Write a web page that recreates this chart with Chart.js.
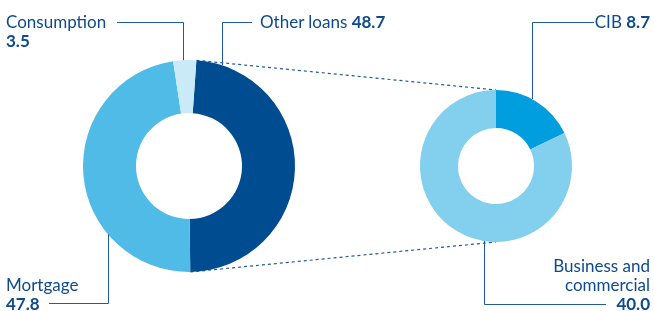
<!DOCTYPE html>
<html lang="en">
<head>
<meta charset="UTF-8">
<title>Loans breakdown</title>
<script src="https://cdn.jsdelivr.net/npm/chart.js@4.4.0/dist/chart.umd.min.js"></script>
<style>
    body { margin: 0; background: #fff; }
    .wrap { position: relative; width: 654px; height: 311px; font-family: Lato, sans-serif; color: #0d4a8e; }
    canvas { position: absolute; left: 0; top: 0; }
    .lbl { position: absolute; font-size: 17px; line-height: 19px; white-space: nowrap; }
    .lbl b { font-weight: 700; }
</style>
</head>
<body>
<div class="wrap" id="wrap">
    <canvas id="loansChart" width="654" height="311"></canvas>
    <canvas id="detailChart" width="654" height="311"></canvas>
</div>
<script>
    // left doughnut: loan portfolio
    const loanLabels = ['Other loans', 'Mortgage', 'Consumption'];
    const loanValues = [48.7, 47.8, 3.5];
    const loanColours = ['#004c91', '#4fbbe6', '#c9eaf6'];

    // right doughnut: breakdown of "Other loans"
    const detailLabels = ['CIB', 'Business and commercial'];
    const detailValues = [8.7, 40.0];
    const detailColours = ['#009ddf', '#82cfee'];

    const lineColour = '#1f5c9f';

    // label boxes (text comes from the arrays above)
    const labelBoxes = [
        { name: loanLabels[2], value: loanValues[2], css: 'left:6px;top:12px' },
        { name: loanLabels[0], value: loanValues[0], inline: true, css: 'left:260px;top:12px' },
        { name: loanLabels[1], value: loanValues[1], css: 'left:6px;top:275px' },
        { name: detailLabels[0], value: detailValues[0], inline: true, css: 'right:4px;top:12px' },
        { name: detailLabels[1], value: detailValues[1], css: 'right:4px;top:256px;width:110px;white-space:normal;text-align:right' }
    ];

    labelBoxes.forEach(l => {
        const div = document.createElement('div');
        div.className = 'lbl';
        div.style.cssText = l.css;
        div.innerHTML = l.name + (l.inline ? ' ' : '<br>') + '<b>' + l.value.toFixed(1) + '</b>';
        document.getElementById('wrap').appendChild(div);
    });

    // draws elbow leader lines from the label to the outer edge of the ring
    const leaderPlugin = {
        id: 'leaders',
        afterDatasetsDraw(chart, args, opts) {
            const arc = chart.getDatasetMeta(0).data[0];
            const cx = arc.x, cy = arc.y, r = arc.outerRadius;
            const ctx = chart.ctx;
            ctx.save();
            ctx.strokeStyle = lineColour;
            ctx.lineWidth = 1;
            opts.lines.forEach(l => {
                const dx = l.x - cx;
                const dy = Math.sqrt(r * r - dx * dx) * (l.y < cy ? -1 : 1);
                ctx.beginPath();
                ctx.moveTo(l.to, l.y + 0.5);
                ctx.lineTo(l.x + 0.5, l.y + 0.5);
                ctx.lineTo(l.x + 0.5, cy + dy);
                ctx.stroke();
            });
            ctx.restore();
        }
    };

    // dashed lines joining the "Other loans" slice to the detail ring
    const connectorPlugin = {
        id: 'connector',
        beforeDatasetsDraw(chart) {
            if (!window.detailChart) return;
            const arc = chart.getDatasetMeta(0).data[0];
            const target = detailChart.getDatasetMeta(0).data[0];
            const ctx = chart.ctx;
            const ends = [
                [arc.startAngle, target.y - target.outerRadius],
                [arc.endAngle, target.y + target.outerRadius]
            ];
            ctx.save();
            ctx.strokeStyle = lineColour;
            ctx.lineWidth = 1.2;
            ctx.setLineDash([3, 3]);
            ends.forEach(([a, ty]) => {
                ctx.beginPath();
                ctx.moveTo(arc.x + arc.outerRadius * Math.cos(a), arc.y + arc.outerRadius * Math.sin(a));
                ctx.lineTo(target.x, ty);
                ctx.stroke();
            });
            ctx.restore();
        }
    };

    const baseOptions = {
        responsive: false,
        animation: false,
        cutout: '50%',
        plugins: { legend: { display: false }, tooltip: { enabled: false } }
    };

    window.detailChart = new Chart(document.getElementById('detailChart'), {
        type: 'doughnut',
        data: {
            labels: detailLabels,
            datasets: [{ data: detailValues, backgroundColor: detailColours, borderWidth: 0 }]
        },
        options: {
            ...baseOptions,
            rotation: 0,
            layout: { padding: { left: 420, right: 82, top: 90, bottom: 69 } },
            plugins: {
                ...baseOptions.plugins,
                leaders: { lines: [
                    { x: 532, y: 22, to: 594 },
                    { x: 484, y: 304, to: 606 }
                ] }
            }
        },
        plugins: [leaderPlugin]
    });

    new Chart(document.getElementById('loansChart'), {
        type: 'doughnut',
        data: {
            labels: loanLabels,
            datasets: [{ data: loanValues, backgroundColor: loanColours, borderWidth: 0 }]
        },
        options: {
            ...baseOptions,
            rotation: 4,
            layout: { padding: { left: 83, right: 359, top: 60, bottom: 39 } },
            plugins: {
                ...baseOptions.plugins,
                leaders: { lines: [
                    { x: 183, y: 22, to: 117 },
                    { x: 222, y: 22, to: 252 },
                    { x: 108, y: 303, to: 49 }
                ] }
            }
        },
        plugins: [leaderPlugin, connectorPlugin]
    });
</script>
</body>
</html>
